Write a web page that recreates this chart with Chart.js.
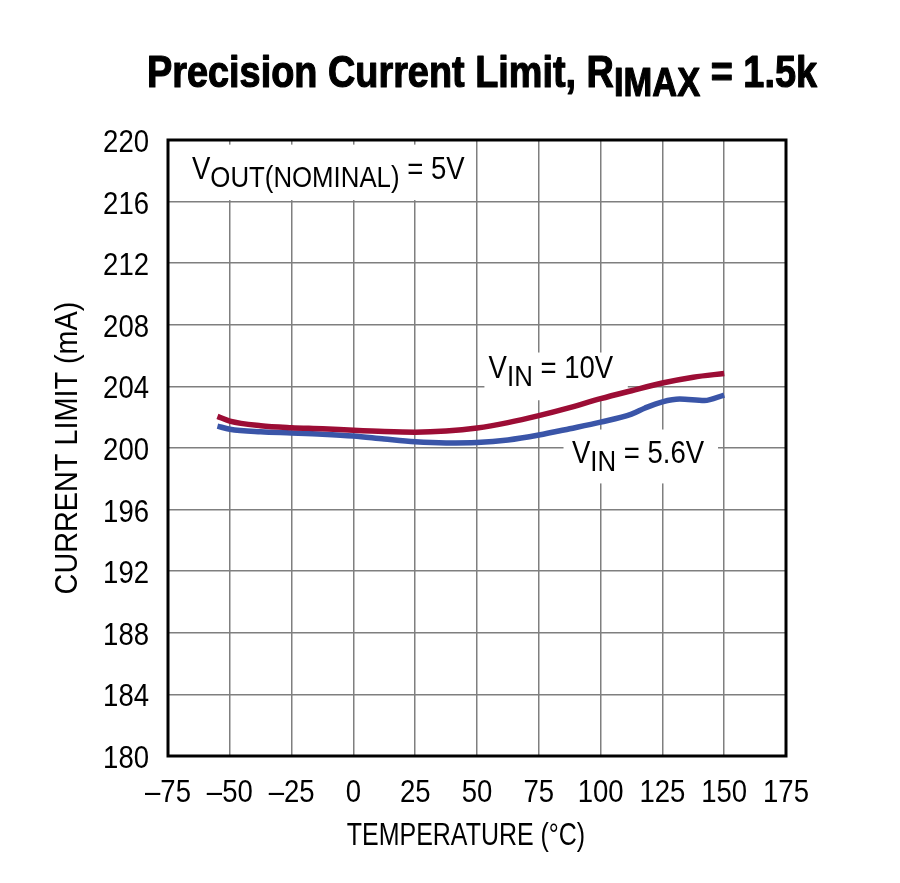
<!DOCTYPE html>
<html lang="en">
<head>
    <meta charset="UTF-8">
    <title>Precision Current Limit</title>
    <script src="https://cdn.jsdelivr.net/npm/chart.js"></script>
    <style>
        html, body { margin: 0; padding: 0; background: #fff; }
        .chart-container { width: 900px; height: 883px; }
    </style>
</head>
<body>
    <div class="chart-container">
        <canvas id="limitChart"></canvas>
    </div>

    <script>
        // Datos
        const tempsVin10 = [-55, -50, -37.5, -25, -12.5, 0, 12.5, 25, 37.5, 50, 62.5, 75, 87.5, 100, 112.5, 125, 137.5, 150];
        const limitVin10 = [202.05, 201.75, 201.45, 201.32, 201.25, 201.15, 201.07, 201.03, 201.1, 201.3, 201.65, 202.1, 202.62, 203.2, 203.72, 204.22, 204.6, 204.84];

        const tempsVin56 = [-55, -50, -37.5, -25, -12.5, 0, 12.5, 25, 37.5, 50, 62.5, 75, 87.5, 100, 112.5, 118, 125, 132, 142, 150];
        const limitVin56 = [201.42, 201.22, 201.05, 200.98, 200.9, 200.78, 200.58, 200.4, 200.33, 200.36, 200.52, 200.84, 201.25, 201.68, 202.2, 202.6, 203.0, 203.18, 203.08, 203.44];

        const xTicks = [-75, -50, -25, 0, 25, 50, 75, 100, 125, 150, 175];
        const yTicks = [180, 184, 188, 192, 196, 200, 204, 208, 212, 216, 220];

        // Etiquetas: texto, subindice, resto, temperatura y corriente del inicio del texto
        const notes = [
            ['V', 'OUT(NOMINAL)', ' = 5V', -65.3, 217.5],
            ['V', 'IN', ' = 10V', 54.7, 204.55],
            ['V', 'IN', ' = 5.6V', 88.4, 199.05]
        ];
        // Fondo blanco de cada etiqueta (izq, arriba, der, abajo en unidades de datos)
        const noteBoxes = [
            [-75, 219.7, 45, 216.1],
            [53, 206.2, 111, 203.1],
            [85, 201.2, 147.5, 197.7]
        ];

        const FONT = "'Liberation Sans', Arial, sans-serif";
        const SX = 0.86;   // ancho condensado
        const RED = '#9c0d35';
        const BLUE = '#3a55a8';

        function toPoints(xs, ys) {
            return xs.map((x, i) => ({ x: x, y: ys[i] }));
        }

        function setFont(ctx, size, weight) {
            ctx.font = (weight || 'normal') + ' ' + size + 'px ' + FONT;
        }

        // Texto condensado horizontalmente
        function drawText(ctx, text, x, y, size, align, weight, sx, stroke) {
            sx = sx || SX;
            setFont(ctx, size, weight);
            const w = ctx.measureText(text).width * sx;
            let left = x;
            if (align === 'center') left = x - w / 2;
            if (align === 'right') left = x - w;
            ctx.save();
            ctx.translate(left, y);
            ctx.scale(sx, 1);
            ctx.textAlign = 'left';
            ctx.textBaseline = 'alphabetic';
            ctx.fillText(text, 0, 0);
            if (stroke) {
                ctx.strokeStyle = ctx.fillStyle;
                ctx.lineWidth = stroke;
                ctx.lineJoin = 'round';
                ctx.strokeText(text, 0, 0);
            }
            ctx.restore();
            return w;
        }

        function richWidth(ctx, parts, size, subSize, weight) {
            setFont(ctx, size, weight);
            let w = ctx.measureText(parts[0]).width + ctx.measureText(parts[2]).width;
            setFont(ctx, subSize, weight);
            return w + ctx.measureText(parts[1]).width;
        }

        function drawRich(ctx, parts, x, y, size, subSize, drop, weight, sx, stroke) {
            x += drawText(ctx, parts[0], x, y, size, 'left', weight, sx, stroke);
            x += drawText(ctx, parts[1], x, y + drop, subSize, 'left', weight, sx, stroke);
            drawText(ctx, parts[2], x, y, size, 'left', weight, sx, stroke);
        }

        const decorPlugin = {
            id: 'decor',
            beforeDatasetsDraw(chart) {
                const ctx = chart.ctx;
                const xs = chart.scales.x, ys = chart.scales.y;
                ctx.save();
                ctx.fillStyle = '#fff';
                noteBoxes.forEach(b => {
                    const l = xs.getPixelForValue(b[0]), r = xs.getPixelForValue(b[2]);
                    const t = ys.getPixelForValue(b[1]), bt = ys.getPixelForValue(b[3]);
                    ctx.fillRect(l, t, r - l, bt - t);
                });
                ctx.fillStyle = '#000';
                notes.forEach(n => {
                    drawRich(ctx, n, xs.getPixelForValue(n[3]), ys.getPixelForValue(n[4]), 32, 30, 8, 'normal');
                });
                ctx.restore();
            },
            afterDatasetsDraw(chart) {
                const ctx = chart.ctx;
                const a = chart.chartArea;
                const xs = chart.scales.x, ys = chart.scales.y;
                ctx.save();
                ctx.strokeStyle = '#000';
                ctx.lineWidth = 3;
                ctx.strokeRect(a.left, a.top, a.right - a.left, a.bottom - a.top);

                ctx.fillStyle = '#000';
                // Marcas de los ejes
                xs.ticks.forEach(t => {
                    const label = t.value < 0 ? '\u2013' + Math.abs(t.value) : String(t.value);
                    drawText(ctx, label, xs.getPixelForValue(t.value), a.bottom + 46, 32, 'center');
                });
                ys.ticks.forEach(t => {
                    drawText(ctx, String(t.value), a.left - 19, ys.getPixelForValue(t.value) + 12, 32, 'right');
                });

                // Titulo
                const tParts = ['Precision Current Limit, R', 'IMAX', ' = 1.5k'];
                const tsx = 670 / richWidth(ctx, tParts, 45, 41, 'bold');
                drawRich(ctx, tParts, 147, 87, 45, 41, 9, 'bold', tsx, 1.2);

                // Titulos de ejes
                drawText(ctx, 'TEMPERATURE (\u00B0C)', 466, 845, 32, 'center', 'normal', 0.78);
                ctx.translate(77, 448);
                ctx.rotate(-Math.PI / 2);
                drawText(ctx, 'CURRENT LIMIT (mA)', 0, 0, 32, 'center', 'normal', 0.9);
                ctx.restore();
            }
        };

        const ctx = document.getElementById('limitChart').getContext('2d');
        new Chart(ctx, {
            type: 'line',
            data: {
                datasets: [
                    { label: 'VIN = 10V', data: toPoints(tempsVin10, limitVin10), borderColor: RED, borderWidth: 5.5, fill: false, tension: 0.4, cubicInterpolationMode: 'monotone', pointRadius: 0 },
                    { label: 'VIN = 5.6V', data: toPoints(tempsVin56, limitVin56), borderColor: BLUE, borderWidth: 5.5, fill: false, tension: 0.4, cubicInterpolationMode: 'monotone', pointRadius: 0 }
                ]
            },
            options: {
                responsive: true,
                maintainAspectRatio: false,
                animation: { duration: 0 },
                layout: { padding: { left: 0, top: 140, right: 114, bottom: 0 } },
                plugins: {
                    legend: { display: false },
                    tooltip: { enabled: false }
                },
                scales: {
                    x: {
                        type: 'linear',
                        min: -75,
                        max: 175,
                        afterBuildTicks: s => { s.ticks = xTicks.map(v => ({ value: v })); },
                        afterFit: s => { s.height = 127; },
                        grid: { color: '#7f7f7f', lineWidth: 1.5, drawTicks: false },
                        border: { display: false },
                        ticks: { display: false }
                    },
                    y: {
                        min: 180,
                        max: 220,
                        afterBuildTicks: s => { s.ticks = yTicks.map(v => ({ value: v })); },
                        afterFit: s => { s.width = 168; },
                        grid: { color: '#7f7f7f', lineWidth: 1.5, drawTicks: false },
                        border: { display: false },
                        ticks: { display: false }
                    }
                }
            },
            plugins: [decorPlugin]
        });
    </script>
</body>
</html>
